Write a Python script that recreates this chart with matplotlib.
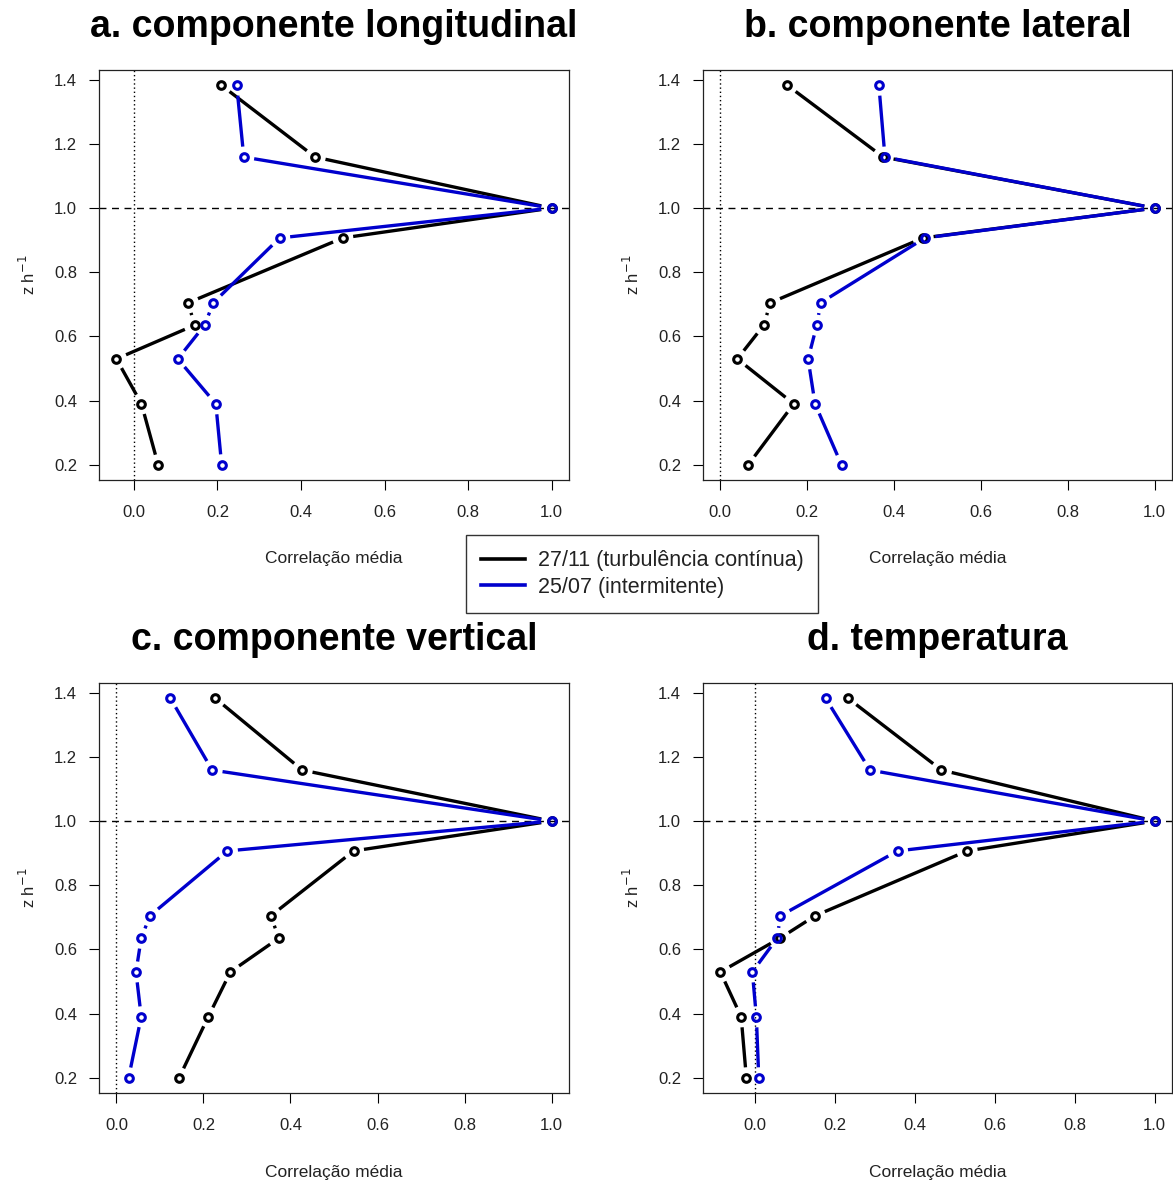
import numpy as np
import matplotlib
matplotlib.use("Agg")
import matplotlib.pyplot as plt
from matplotlib.lines import Line2D

plt.rcParams['font.family'] = ['Liberation Sans', 'DejaVu Sans']

# heights (z/h)
z = [0.2, 0.39, 0.53, 0.635, 0.705, 0.907, 1.0, 1.159, 1.383]

titles = ["a. componente longitudinal", "b. componente lateral",
          "c. componente vertical", "d. temperatura"]

# 27/11 (turbulência contínua)
cont_a = [0.058, 0.018, -0.042, 0.145, 0.130, 0.500, 1.0, 0.434, 0.209]
cont_b = [0.064, 0.169, 0.039, 0.100, 0.115, 0.467, 1.0, 0.375, 0.154]
cont_c = [0.144, 0.211, 0.262, 0.373, 0.355, 0.545, 1.0, 0.427, 0.227]
cont_d = [-0.021, -0.034, -0.086, 0.063, 0.151, 0.531, 1.0, 0.467, 0.233]

# 25/07 (intermitente)
int_a = [0.210, 0.196, 0.105, 0.169, 0.190, 0.349, 1.0, 0.263, 0.246]
int_b = [0.279, 0.218, 0.202, 0.222, 0.231, 0.471, 1.0, 0.379, 0.365]
int_c = [0.028, 0.057, 0.045, 0.057, 0.077, 0.255, 1.0, 0.220, 0.124]
int_d = [0.010, 0.004, -0.006, 0.056, 0.064, 0.357, 1.0, 0.288, 0.177]

series_labels = ["27/11 (turbulência contínua)", "25/07 (intermitente)"]
xticks = [0.0, 0.2, 0.4, 0.6, 0.8, 1.0]
yticks = [0.2, 0.4, 0.6, 0.8, 1.0, 1.2, 1.4]
xlabel = "Correlação média"

BLACK = "#000000"
BLUE = "#0000CD"
TXT = "#222222"

W, H = 1173, 1182
fig = plt.figure(figsize=(W / 100, H / 100), dpi=100)

boxes = [(99, 70, 569, 480), (703, 70, 1172, 480),
         (99, 683, 569, 1093), (703, 683, 1172, 1093)]


def r_range(vals):
    lo, hi = min(vals), max(vals)
    pad = 0.04 * (hi - lo)
    return lo - pad, hi + pad


def gapped(ax, x, y, color, r=10.5, lw=2.4):
    pts = ax.transData.transform(np.column_stack([x, y]))
    inv = ax.transData.inverted()
    for p0, p1 in zip(pts[:-1], pts[1:]):
        d = p1 - p0
        L = np.hypot(d[0], d[1])
        if L <= 2 * r:
            continue
        u = d / L
        seg = inv.transform(np.array([p0 + u * r, p1 - u * r]))
        ax.plot(seg[:, 0], seg[:, 1], color=color, lw=lw,
                solid_capstyle='butt', zorder=3)
    ax.plot(x, y, ls='none', marker='o', ms=5.5, mew=2.2,
            mfc='none', mec=color, zorder=4)


conts = [cont_a, cont_b, cont_c, cont_d]
ints = [int_a, int_b, int_c, int_d]

for i, (l, t, r, b) in enumerate(boxes):
    ax = fig.add_axes([l / W, 1 - b / H, (r - l) / W, (b - t) / H])
    allx = conts[i] + ints[i] + [0.0, 1.0]
    ax.set_xlim(*r_range(allx))
    ax.set_ylim(*r_range(z))
    ax.axhline(1.0, color='black', lw=1.0, ls=(0, (5, 4)), zorder=2)
    ax.axvline(0.0, color='black', lw=1.0, ls=(0, (1, 2)), zorder=2)
    gapped(ax, conts[i], z, BLACK)
    gapped(ax, ints[i], z, BLUE)
    ax.set_xticks(xticks)
    ax.set_xticklabels([f"{v:.1f}" for v in xticks])
    ax.set_yticks(yticks)
    ax.set_yticklabels([f"{v:.1f}" for v in yticks])
    ax.tick_params(axis='x', length=7.2, width=0.8, pad=11, labelsize=12,
                   labelcolor=TXT)
    ax.tick_params(axis='y', length=7.2, width=0.8, pad=8.5, labelsize=12,
                   labelcolor=TXT)
    for s in ax.spines.values():
        s.set_linewidth(0.9)
        s.set_color(TXT)
    ax.set_xlabel(xlabel, fontsize=12.5, color=TXT)
    ax.xaxis.label.set_va('center')
    ax.xaxis.set_label_coords(0.5, -79 / 410)
    ax.set_ylabel(r"z h$^{-1}$", fontsize=12, color=TXT)
    ax.yaxis.label.set_va('center')
    ax.yaxis.set_label_coords(-71 / (r - l), 0.5)
    ax.text(0.5, 1 + 43 / 410, titles[i], transform=ax.transAxes,
            ha='center', va='center', fontsize=27, fontweight='bold')

handles = [Line2D([], [], color=BLACK, lw=2.6),
           Line2D([], [], color=BLUE, lw=2.6)]
leg = fig.legend(handles, series_labels, loc='center',
                 bbox_to_anchor=(642 / W, 1 - 574 / H), fontsize=15.5,
                 frameon=True, fancybox=False, edgecolor='black',
                 handlelength=2.05, handletextpad=0.6, borderpad=0.7,
                 labelspacing=0.25, borderaxespad=0)
leg.get_frame().set_linewidth(1.0)
for t in leg.get_texts():
    t.set_color(TXT)

fig.savefig("out.png", dpi=100, facecolor='white')
